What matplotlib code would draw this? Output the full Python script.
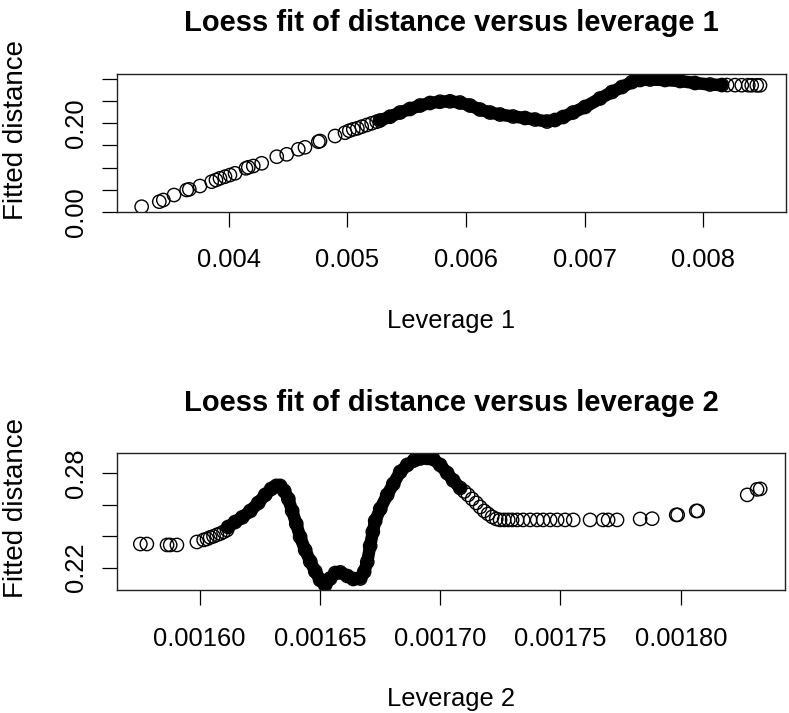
import matplotlib
matplotlib.use("Agg")
import matplotlib.pyplot as plt

plt.rcParams["font.family"] = ["Liberation Sans", "DejaVu Sans"]

# panel 1 : fitted distance vs leverage 1
lev1_sparse = [0.003263, 0.003412, 0.003446, 0.003536, 0.003643, 0.003665, 0.003755, 0.003854,
               0.003890, 0.003924, 0.003966, 0.004008, 0.004051, 0.004143, 0.004163, 0.004205,
               0.004276, 0.004403, 0.004487, 0.004585, 0.004641, 0.004754, 0.004768, 0.004895,
               0.004979, 0.005015, 0.005049, 0.005083, 0.005120, 0.005162, 0.005204, 0.005246,
               0.008203, 0.008270, 0.008327, 0.008382, 0.008411, 0.008453, 0.008481]
fit1_sparse = [0.0113, 0.0227, 0.0265, 0.0378, 0.0492, 0.0507, 0.0582, 0.0680,
               0.0718, 0.0757, 0.0793, 0.0831, 0.0870, 0.0983, 0.1006, 0.1035,
               0.1097, 0.1246, 0.1300, 0.1414, 0.1459, 0.1586, 0.1602, 0.1715,
               0.1790, 0.1835, 0.1867, 0.1889, 0.1926, 0.1964, 0.2003, 0.2039,
               0.2870, 0.2868, 0.2866, 0.2866, 0.2865, 0.2864, 0.2864]
# the part where the circles pile up into a solid band
lev1_dense = [0.005274, 0.005359, 0.005443, 0.005527, 0.005612, 0.005696, 0.005781, 0.005865,
              0.005949, 0.006034, 0.006118, 0.006203, 0.006287, 0.006397, 0.006498, 0.006582,
              0.006684, 0.006751, 0.006819, 0.006903, 0.007004, 0.007131, 0.007232, 0.007316,
              0.007401, 0.007468, 0.007553, 0.007679, 0.007806, 0.007932, 0.008059, 0.008160]
fit1_dense = [0.2066, 0.2152, 0.2247, 0.2327, 0.2406, 0.2463, 0.2492, 0.2501,
              0.2474, 0.2406, 0.2315, 0.2247, 0.2202, 0.2157, 0.2123, 0.2089,
              0.2043, 0.2077, 0.2145, 0.2247, 0.2372, 0.2565, 0.2712, 0.2825,
              0.2938, 0.2984, 0.2995, 0.2984, 0.2961, 0.2916, 0.2882, 0.2870]

# panel 2 : fitted distance vs leverage 2
lev2_sparse = [0.0015754, 0.0015781, 0.0015865, 0.0015878, 0.0015906, 0.0015989, 0.0016017,
               0.0016031, 0.0016044, 0.0016058, 0.0016072, 0.0016086, 0.0016100, 0.0016114,
               0.0017100, 0.0017116, 0.0017133, 0.0017150, 0.0017166, 0.0017183, 0.0017199,
               0.0017216, 0.0017233, 0.0017249, 0.0017266,
               0.0017283, 0.0017299, 0.0017320, 0.0017345, 0.0017374, 0.0017403, 0.0017428,
               0.0017457, 0.0017486, 0.0017519, 0.0017553, 0.0017623, 0.0017677, 0.0017698,
               0.0017735, 0.0017831, 0.0017881, 0.0017981, 0.0017987, 0.0018064, 0.0018070,
               0.0018276, 0.0018317, 0.0018330]
fit2_sparse = [0.2350, 0.2350, 0.2344, 0.2344, 0.2344, 0.2363, 0.2376,
               0.2382, 0.2392, 0.2399, 0.2408, 0.2416, 0.2427, 0.2439,
               0.2684, 0.2662, 0.2636, 0.2611, 0.2585, 0.2560, 0.2541,
               0.2522, 0.2509, 0.2503, 0.2503,
               0.2503, 0.2503, 0.2503, 0.2503, 0.2503, 0.2503, 0.2503,
               0.2503, 0.2503, 0.2503, 0.2503, 0.2503, 0.2503, 0.2503,
               0.2503, 0.2509, 0.2511, 0.2535, 0.2535, 0.2560, 0.2560,
               0.2662, 0.2697, 0.2700]
lev2_dense = [0.0016119, 0.0016148, 0.0016177, 0.0016211, 0.0016244, 0.0016273, 0.0016298,
              0.0016319, 0.0016335, 0.0016352, 0.0016369, 0.0016385, 0.0016402, 0.0016418,
              0.0016439, 0.0016460, 0.0016481, 0.0016501, 0.0016522, 0.0016543, 0.0016564,
              0.0016585, 0.0016614, 0.0016639, 0.0016668, 0.0016684, 0.0016697, 0.0016709,
              0.0016720, 0.0016730, 0.0016751, 0.0016780, 0.0016805, 0.0016834, 0.0016863,
              0.0016892, 0.0016917, 0.0016946, 0.0016971, 0.0017000, 0.0017029, 0.0017054,
              0.0017083]
fit2_dense = [0.2458, 0.2490, 0.2519, 0.2560, 0.2611, 0.2662, 0.2700,
              0.2719, 0.2719, 0.2687, 0.2636, 0.2560, 0.2478, 0.2395,
              0.2312, 0.2239, 0.2176, 0.2122, 0.2090, 0.2131, 0.2166,
              0.2170, 0.2147, 0.2128, 0.2131, 0.2173, 0.2236, 0.2338,
              0.2427, 0.2497, 0.2573, 0.2662, 0.2731, 0.2808, 0.2852,
              0.2881, 0.2893, 0.2897, 0.2890, 0.2852, 0.2801, 0.2754,
              0.2706]

x1_ticks = [0.004, 0.005, 0.006, 0.007, 0.008]
x1_labels = ["0.004", "0.005", "0.006", "0.007", "0.008"]
y1_ticks = [0.00, 0.05, 0.10, 0.15, 0.20, 0.25, 0.30]
y1_labels = ["0.00", "", "", "", "0.20", "", ""]
x2_ticks = [0.00160, 0.00165, 0.00170, 0.00175, 0.00180]
x2_labels = ["0.00160", "0.00165", "0.00170", "0.00175", "0.00180"]
y2_ticks = [0.22, 0.24, 0.26, 0.28]
y2_labels = ["0.22", "", "", "0.28"]

W, H = 789, 713
fig = plt.figure(figsize=(W / 100, H / 100), dpi=100)


def panel(box, xlim, ylim, xs, ys, xd, yd, xt, xl, yt, yl, title, xlabel):
    left, top, right, bottom = box
    ax = fig.add_axes([left / W, 1 - bottom / H, (right - left) / W, (bottom - top) / H])
    # dense band: thick line under the circles
    ax.plot(xd, yd, color="black", lw=9.0, solid_capstyle="round", solid_joinstyle="round")
    ax.scatter(xd, yd, s=92, facecolors="none", edgecolors="black", linewidths=1.0)
    ax.scatter(xs, ys, s=92, facecolors="none", edgecolors="black", linewidths=1.0)
    ax.set_xlim(*xlim)
    ax.set_ylim(*ylim)
    ax.set_xticks(xt)
    ax.set_xticklabels(xl)
    ax.set_yticks(yt)
    ax.set_yticklabels(yl, rotation=90, va="center")
    ax.tick_params(direction="out", length=10.8, width=0.9, labelsize=18.4, color="black")
    ax.tick_params(axis="x", pad=15.5)
    ax.tick_params(axis="y", pad=10)
    for s in ax.spines.values():
        s.set_linewidth(1.0)
        s.set_color("#222222")
    h = bottom - top
    ax.set_xlabel(xlabel, fontsize=18.4)
    ax.xaxis.set_label_coords(0.5, -(309 - 211.7) / h)
    # y label: lower end sits ~8 px under the plot box, as in the original
    ax.set_ylabel("Fitted distance", fontsize=20)
    ax.yaxis.set_label_coords((29 - left) / (right - left), (90 - 8) / h)
    fig.text((left + right) / 2 / W, 1 - (top - 42.6) / H, title, ha="center",
             va="baseline", fontsize=21, fontweight="bold")
    return ax


ax1 = panel((117, 74, 786, 211.7), (0.0030549, 0.0087004), (0.0, 0.312),
            lev1_sparse, fit1_sparse, lev1_dense, fit1_dense,
            x1_ticks, x1_labels, y1_ticks, y1_labels,
            "Loess fit of distance versus leverage 1", "Leverage 1")

ax2 = panel((117, 453.3, 785, 590), (0.0015657, 0.0018433), (0.2058, 0.2926),
            lev2_sparse, fit2_sparse, lev2_dense, fit2_dense,
            x2_ticks, x2_labels, y2_ticks, y2_labels,
            "Loess fit of distance versus leverage 2", "Leverage 2")

fig.savefig("out.png", dpi=100)
